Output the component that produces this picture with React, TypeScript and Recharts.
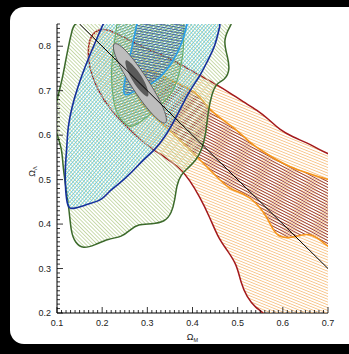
import React from "react";
import { ComposedChart, Scatter, XAxis, YAxis, Curve } from "recharts";

// axis setup
const X_DOMAIN = [0.1, 0.7];
const Y_DOMAIN = [0.2, 0.85];
const X_MINOR = Array.from({ length: 61 }, (_, i) => Math.round((0.1 + i * 0.01) * 100) / 100);
const Y_MINOR = Array.from({ length: 66 }, (_, i) => Math.round((0.2 + i * 0.01) * 100) / 100);

// outer (wide) green contour
const GREEN_OUT_M = [0.142, 0.494, 0.485, 0.467, 0.478, 0.483, 0.472, 0.454, 0.443, 0.434, 0.43, 0.421, 0.408, 0.39, 0.374, 0.365, 0.361, 0.354, 0.339, 0.31, 0.279, 0.262, 0.244, 0.213, 0.184, 0.158, 0.14, 0.131, 0.127, 0.118, 0.113, 0.111, 0.102, 0.089, 0.1, 0.113, 0.122, 0.135];
const GREEN_OUT_L = [0.864, 0.864, 0.848, 0.814, 0.776, 0.747, 0.724, 0.718, 0.695, 0.65, 0.605, 0.567, 0.544, 0.526, 0.511, 0.488, 0.454, 0.425, 0.405, 0.4, 0.4, 0.387, 0.371, 0.367, 0.353, 0.344, 0.358, 0.382, 0.432, 0.493, 0.533, 0.567, 0.596, 0.634, 0.679, 0.731, 0.785, 0.844];

// inner green contour
const GREEN_IN_M = [0.233, 0.224, 0.219, 0.224, 0.233, 0.246, 0.262, 0.279, 0.299, 0.323, 0.346, 0.361, 0.372, 0.379, 0.381, 0.381, 0.381, 0.233];
const GREEN_IN_L = [0.848, 0.792, 0.736, 0.679, 0.646, 0.63, 0.616, 0.625, 0.641, 0.661, 0.684, 0.706, 0.742, 0.781, 0.814, 0.848, 0.864, 0.864];

// outer blue contour
const BLUE_OUT_M = [0.202, 0.184, 0.162, 0.146, 0.133, 0.124, 0.122, 0.118, 0.118, 0.122, 0.129, 0.144, 0.169, 0.2, 0.213, 0.235, 0.266, 0.29, 0.317, 0.339, 0.361, 0.394, 0.416, 0.434, 0.45, 0.461, 0.465, 0.206];
const BLUE_OUT_L = [0.848, 0.808, 0.754, 0.709, 0.664, 0.619, 0.574, 0.529, 0.488, 0.443, 0.434, 0.436, 0.445, 0.454, 0.472, 0.488, 0.517, 0.544, 0.567, 0.596, 0.634, 0.702, 0.731, 0.769, 0.799, 0.848, 0.864, 0.864];

// inner light blue contour
const BLUE_IN_M = [0.277, 0.266, 0.255, 0.246, 0.25, 0.262, 0.284, 0.306, 0.328, 0.35, 0.365, 0.379, 0.388, 0.39, 0.277];
const BLUE_IN_L = [0.848, 0.799, 0.747, 0.702, 0.688, 0.693, 0.706, 0.713, 0.729, 0.756, 0.781, 0.814, 0.848, 0.864, 0.864];

// outer red contour (orange hatch)
const RED_OUT_M = [0.169, 0.169, 0.177, 0.195, 0.217, 0.25, 0.284, 0.321, 0.357, 0.394, 0.423, 0.454, 0.483, 0.512, 0.542, 0.571, 0.593, 0.622, 0.653, 0.682, 0.715, 0.735, 0.745, 0.745, 0.582, 0.56, 0.54, 0.52, 0.507, 0.498, 0.476, 0.456, 0.438, 0.416, 0.394, 0.372, 0.339, 0.306, 0.268, 0.233, 0.202, 0.177];
const RED_OUT_L = [0.769, 0.803, 0.828, 0.839, 0.837, 0.819, 0.801, 0.785, 0.769, 0.747, 0.731, 0.713, 0.695, 0.675, 0.657, 0.634, 0.612, 0.596, 0.583, 0.567, 0.551, 0.542, 0.45, 0.162, 0.162, 0.2, 0.211, 0.236, 0.268, 0.31, 0.342, 0.371, 0.416, 0.461, 0.499, 0.526, 0.551, 0.571, 0.605, 0.641, 0.679, 0.731];

// inner orange contour (dark red hatch)
const ORANGE_IN_M = [0.284, 0.306, 0.328, 0.357, 0.394, 0.416, 0.438, 0.467, 0.498, 0.527, 0.556, 0.587, 0.615, 0.653, 0.7, 0.737, 0.745, 0.737, 0.7, 0.675, 0.653, 0.622, 0.593, 0.578, 0.565, 0.542, 0.512, 0.483, 0.454, 0.423, 0.394, 0.361, 0.328, 0.295, 0.273, 0.268];
const ORANGE_IN_L = [0.742, 0.747, 0.736, 0.72, 0.706, 0.686, 0.657, 0.634, 0.612, 0.583, 0.563, 0.544, 0.529, 0.515, 0.499, 0.495, 0.41, 0.326, 0.349, 0.371, 0.38, 0.369, 0.369, 0.387, 0.416, 0.448, 0.47, 0.477, 0.506, 0.538, 0.567, 0.601, 0.63, 0.661, 0.691, 0.72];

// combined constraint (grey ellipses)
const COMB_OUT_M = [0.224, 0.242, 0.268, 0.3, 0.328, 0.343, 0.343, 0.326, 0.299, 0.267, 0.239, 0.224];
const COMB_OUT_L = [0.81, 0.802, 0.773, 0.727, 0.679, 0.643, 0.623, 0.631, 0.66, 0.705, 0.754, 0.79];
const COMB_IN_M = [0.248, 0.27, 0.287, 0.3, 0.306, 0.283, 0.267, 0.254];
const COMB_IN_L = [0.776, 0.757, 0.734, 0.709, 0.679, 0.699, 0.722, 0.747];

// flat universe line
const FLAT_M = [0.15, 0.7];
const FLAT_L = [0.85, 0.3];

const toPts = (ms: number[], ls: number[]) => ms.map((m, i) => ({ m, l: ls[i] }));

const FONT = "'Liberation Sans', Arial, sans-serif";
const isMajor = (v: number) => Math.abs(v * 10 - Math.round(v * 10)) < 1e-6;

const noDot = () => <g />;

const contour = (fill: string, stroke: string, width: number) => (p: any) => (
  <Curve points={p.points} type="basisClosed" fill={fill} stroke={stroke} strokeWidth={width} />
);

const straight = (p: any) => <Curve points={p.points} type="linear" fill="none" stroke="#000" strokeWidth={1} />;

const BottomTick = ({ x, y, payload }: any) => {
  const major = isMajor(payload.value);
  return (
    <g>
      <line x1={x} x2={x} y1={y} y2={y - (major ? 6 : 3)} stroke="#000" strokeWidth={0.8} />
      {major && (
        <text x={x} y={y + 13} textAnchor="middle" fontSize={9} fontFamily={FONT} fill="#222">
          {payload.value.toFixed(1)}
        </text>
      )}
    </g>
  );
};

const TopTick = ({ x, y, payload }: any) => (
  <line x1={x} x2={x} y1={y} y2={y + (isMajor(payload.value) ? 6 : 3)} stroke="#000" strokeWidth={0.8} />
);

const LeftTick = ({ x, y, payload }: any) => {
  const major = isMajor(payload.value);
  return (
    <g>
      <line x1={x} x2={x + (major ? 6 : 3)} y1={y} y2={y} stroke="#000" strokeWidth={0.8} />
      {major && (
        <text x={x - 6} y={y + 3.2} textAnchor="end" fontSize={9} fontFamily={FONT} fill="#222">
          {payload.value.toFixed(1)}
        </text>
      )}
    </g>
  );
};

const RightTick = ({ x, y, payload }: any) => (
  <line x1={x} x2={x - (isMajor(payload.value) ? 6 : 3)} y1={y} y2={y} stroke="#000" strokeWidth={0.8} />
);

const XTitle = ({ viewBox }: any) => (
  <text x={viewBox.x + viewBox.width / 2} y={viewBox.y + 27} textAnchor="middle" fontSize={9} fontFamily={FONT} fill="#222">
    Ω<tspan fontSize={5.5} dy={1.5}>M</tspan>
  </text>
);

const YTitle = ({ viewBox }: any) => (
  <text
    transform={`translate(${viewBox.x + 8}, ${viewBox.y + viewBox.height / 2 + 3}) rotate(-90)`}
    textAnchor="middle"
    fontSize={9}
    fontFamily={FONT}
    fill="#222"
  >
    Ω<tspan fontSize={5.5} dy={1.5}>Λ</tspan>
  </text>
);

const hatch = (id: string, color: string, angle: number, gap: number, w: number) => (
  <pattern id={id} patternUnits="userSpaceOnUse" width={10} height={gap} patternTransform={`rotate(${angle})`}>
    <line x1={0} y1={gap / 2} x2={10} y2={gap / 2} stroke={color} strokeWidth={w} />
  </pattern>
);

export default function App() {
  return (
    <div style={{ position: "fixed", left: 0, top: 0, width: 349, height: 354, background: "#000", overflow: "hidden" }}>
      <div style={{ position: "absolute", left: 10, top: 7, width: 360, height: 337, background: "#fff", borderRadius: 14 }} />
      <div style={{ position: "absolute", left: 0, top: 0 }}>
        <ComposedChart width={349} height={354} margin={{ top: 24, right: 21, bottom: 11, left: 27 }}>
          <defs>
            {hatch("hOrange", "#f6bd7c", 22, 2.6, 0.85)}
            {hatch("hRed", "#8f2f2f", 28, 2.6, 0.85)}
            {hatch("hGreen", "#bcd199", 45, 2.7, 0.85)}
            {hatch("hCyan", "#67c8e0", -50, 2.6, 0.85)}
            {hatch("hGreenIn", "#6f9f63", -20, 2.6, 0.8)}
            {hatch("hBlueIn", "#34539e", 10, 2.6, 0.8)}
          </defs>
          <XAxis
            xAxisId="main"
            dataKey="m"
            type="number"
            domain={X_DOMAIN}
            allowDataOverflow
            ticks={X_MINOR}
            interval={0}
            tickLine={false}
            tickSize={0}
            tickMargin={0}
            tick={<BottomTick />}
            axisLine={{ stroke: "#000" }}
            height={30}
            label={{ content: (p: any) => <XTitle {...p} /> }}
          />
          <XAxis
            xAxisId="top"
            orientation="top"
            type="number"
            domain={X_DOMAIN}
            allowDataOverflow
            ticks={X_MINOR}
            interval={0}
            tickLine={false}
            tickSize={0}
            tickMargin={0}
            tick={<TopTick />}
            axisLine={{ stroke: "#000" }}
            height={0}
          />
          <YAxis
            yAxisId="main"
            dataKey="l"
            type="number"
            domain={Y_DOMAIN}
            allowDataOverflow
            ticks={Y_MINOR}
            interval={0}
            tickLine={false}
            tickSize={0}
            tickMargin={0}
            tick={<LeftTick />}
            axisLine={{ stroke: "#000" }}
            width={30}
            label={{ content: (p: any) => <YTitle {...p} /> }}
          />
          <YAxis
            yAxisId="right"
            orientation="right"
            type="number"
            domain={Y_DOMAIN}
            allowDataOverflow
            ticks={Y_MINOR}
            interval={0}
            tickLine={false}
            tickSize={0}
            tickMargin={0}
            tick={<RightTick />}
            axisLine={{ stroke: "#000" }}
            width={0}
          />

          <Scatter xAxisId="main" yAxisId="main" data={toPts(RED_OUT_M, RED_OUT_L)} shape={noDot} lineType="joint"
            line={contour("url(#hOrange)", "#a3191c", 1.5)} isAnimationActive={false} />
          <Scatter xAxisId="main" yAxisId="main" data={toPts(ORANGE_IN_M, ORANGE_IN_L)} shape={noDot} lineType="joint"
            line={contour("url(#hRed)", "#f5961c", 1.6)} isAnimationActive={false} />
          <Scatter xAxisId="main" yAxisId="main" data={toPts(GREEN_OUT_M, GREEN_OUT_L)} shape={noDot} lineType="joint"
            line={contour("url(#hGreen)", "#3c6a2b", 1.5)} isAnimationActive={false} />
          <Scatter xAxisId="main" yAxisId="main" data={toPts(BLUE_OUT_M, BLUE_OUT_L)} shape={noDot} lineType="joint"
            line={contour("url(#hCyan)", "#16309c", 1.6)} isAnimationActive={false} />
          <Scatter xAxisId="main" yAxisId="main" data={toPts(GREEN_IN_M, GREEN_IN_L)} shape={noDot} lineType="joint"
            line={contour("url(#hGreenIn)", "#69ad6a", 1.1)} isAnimationActive={false} />
          <Scatter xAxisId="main" yAxisId="main" data={toPts(BLUE_IN_M, BLUE_IN_L)} shape={noDot} lineType="joint"
            line={contour("url(#hBlueIn)", "#2a9fe6", 1.6)} isAnimationActive={false} />
          <Scatter xAxisId="main" yAxisId="main" data={toPts(COMB_OUT_M, COMB_OUT_L)} shape={noDot} lineType="joint"
            line={contour("#bdbdbd", "#5e5e5e", 1)} isAnimationActive={false} />
          <Scatter xAxisId="main" yAxisId="main" data={toPts(COMB_IN_M, COMB_IN_L)} shape={noDot} lineType="joint"
            line={contour("#5a5a5a", "none", 0)} isAnimationActive={false} />
          <Scatter xAxisId="main" yAxisId="main" data={toPts(FLAT_M, FLAT_L)} shape={noDot} lineType="joint"
            line={straight} isAnimationActive={false} />
        </ComposedChart>
      </div>
    </div>
  );
}
